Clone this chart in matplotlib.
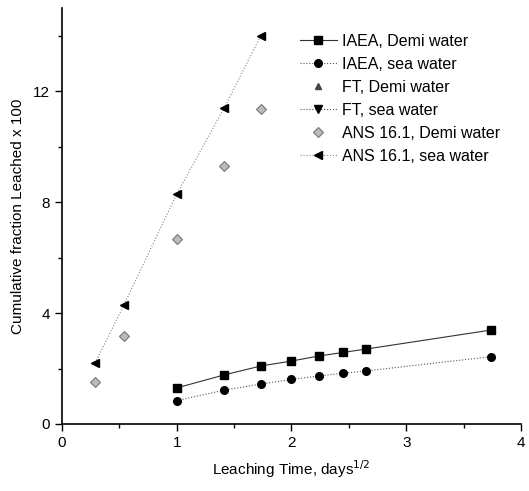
import numpy as np
import matplotlib
matplotlib.use("Agg")
import matplotlib.pyplot as plt

plt.rcParams['font.family'] = ['Liberation Sans', 'DejaVu Sans']

# leaching time, days^1/2
iaea_t = [1.0, 1.414, 1.732, 2.0, 2.236, 2.449, 2.646, 3.742]
iaea_demi = [1.30, 1.77, 2.09, 2.27, 2.45, 2.58, 2.70, 3.39]
iaea_sea = [0.84, 1.22, 1.44, 1.61, 1.73, 1.83, 1.91, 2.43]

ft_t = []
ft_demi = []
ft_sea = []

ans_t = [0.289, 0.54, 1.0, 1.414, 1.732]
ans_demi = [1.52, 3.17, 6.66, 9.30, 11.35]
ans_sea = [2.20, 4.29, 8.29, 11.40, 14.00]

fig = plt.figure(figsize=(5.29, 4.91), dpi=100)
ax = fig.add_axes([0.117, 0.1365, 0.868, 0.847])

ax.plot(iaea_t, iaea_demi, color='#333333', lw=0.8, ls='-', marker='s', ms=5.5,
        mfc='black', mec='black', label='IAEA, Demi water')
ax.plot(iaea_t, iaea_sea, color='#555555', lw=0.8, ls=':', marker='o', ms=5.5,
        mfc='black', mec='black', label='IAEA, sea water')
ax.plot(ft_t, ft_demi, ls='none', marker='^', ms=4, mfc='#444444', mec='#444444',
        label='FT, Demi water')
ax.plot(ft_t, ft_sea, color='#555555', lw=0.8, ls=':', marker='v', ms=5.5,
        mfc='black', mec='black', label='FT, sea water')
ax.plot(ans_t, ans_demi, ls='none', marker='D', ms=5, mfc='#bbbbbb', mec='#777777',
        mew=0.8, label='ANS 16.1, Demi water')
ax.plot(ans_t, ans_sea, color='#888888', lw=0.8, ls=':', marker='<', ms=6,
        mfc='black', mec='black', label='ANS 16.1, sea water')

ax.set_xlim(0, 4)
ax.set_ylim(0, 15)
ax.set_xticks([0, 1, 2, 3, 4])
ax.set_xticks(np.arange(0, 4.01, 0.5), minor=True)
ax.set_yticks([0, 4, 8, 12])
ax.set_yticks([2, 6, 10, 14], minor=True)
ax.tick_params(which='both', direction='out', width=1, labelsize=11)
ax.tick_params(which='major', length=5)
ax.tick_params(which='minor', length=3)
ax.spines['top'].set_visible(False)
ax.spines['right'].set_visible(False)
ax.spines['left'].set_linewidth(1.2)
ax.spines['bottom'].set_linewidth(1.2)

ax.set_xlabel('Leaching Time, days$^{1/2}$', fontsize=11, labelpad=6)
ax.set_ylabel('Cumulative fraction Leached x 100', fontsize=11, labelpad=6)

ax.legend(loc='upper right', bbox_to_anchor=(0.978, 0.965), frameon=False,
          fontsize=11.5, handlelength=2.3, handletextpad=0.3, labelspacing=0.5,
          borderpad=0.2)

fig.savefig('out.png', dpi=100)
